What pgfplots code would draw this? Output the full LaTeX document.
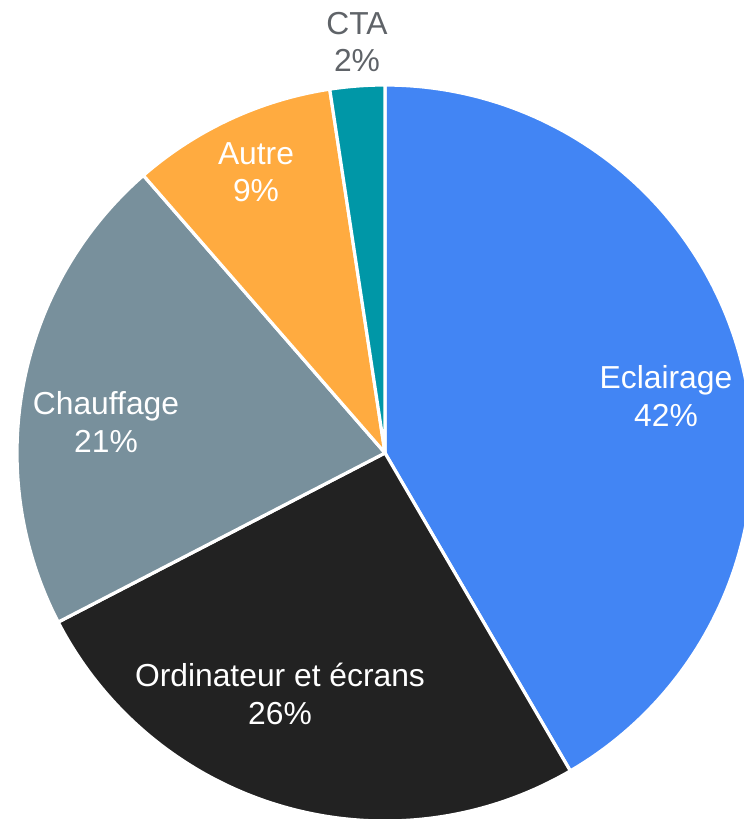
\documentclass[border=0pt]{standalone}
\usepackage{fontspec}
\setmainfont{Liberation Sans}
\usepackage{pgfplots}
\pgfplotsset{compat=1.18}

\definecolor{cEcl}{HTML}{4285F4}
\definecolor{cOrd}{HTML}{222222}
\definecolor{cCha}{HTML}{78909C}
\definecolor{cAut}{HTML}{FFAB40}
\definecolor{cCta}{HTML}{0097A7}
\definecolor{cTxt}{HTML}{5F6368}

% shares in percent, clockwise from the top
\def\sEcl{41.6}
\def\sOrd{25.8}
\def\sCha{21.2}
\def\sAut{9.0}
\def\sCta{2.4}
\def\R{368}

\pgfmathsetmacro\aA{90}
\pgfmathsetmacro\aB{\aA-3.6*\sEcl}
\pgfmathsetmacro\aC{\aB-3.6*\sOrd}
\pgfmathsetmacro\aD{\aC-3.6*\sCha}
\pgfmathsetmacro\aE{\aD-3.6*\sAut}
\pgfmathsetmacro\aF{\aE-3.6*\sCta}

% one wedge: colour, start angle, end angle (start < end)
\newcommand{\slice}[3]{%
  \addplot[fill=#1, draw=white, line width=1.6pt, line join=round,
    domain=#2:#3, samples=120, variable=\t]
    ({\R*cos(\t)}, {\R*sin(\t)}) -- (0,0) -- cycle;
}

\tikzset{lbl/.style={font=\fontsize{15.9}{18.7}\selectfont, align=center, inner sep=0pt}}

\begin{document}
\begin{tikzpicture}
\begin{axis}[
    name=ax,
    x=0.5pt, y=0.5pt,
    xmin=-385, xmax=359,
    ymin=-366, ymax=453,
    hide axis,
    clip=true,
]
\slice{cEcl}{\aB}{\aA}
\slice{cOrd}{\aC}{\aB}
\slice{cCha}{\aD}{\aC}
\slice{cAut}{\aE}{\aD}
\slice{cCta}{\aF}{\aE}

\node[lbl, text=white] at (axis cs:281,57) {Eclairage\\42\%};
\node[lbl, text=white] at (axis cs:-105,-241) {Ordinateur et écrans\\26\%};
\node[lbl, text=white] at (axis cs:-279,31) {Chauffage\\21\%};
\node[lbl, text=white] at (axis cs:-129,281) {Autre\\9\%};
\node[lbl, text=cTxt] at (axis cs:-28,411) {CTA\\2\%};
\end{axis}
\pgfresetboundingbox
\path (ax.south west) rectangle (ax.north east);
\end{tikzpicture}
\end{document}
